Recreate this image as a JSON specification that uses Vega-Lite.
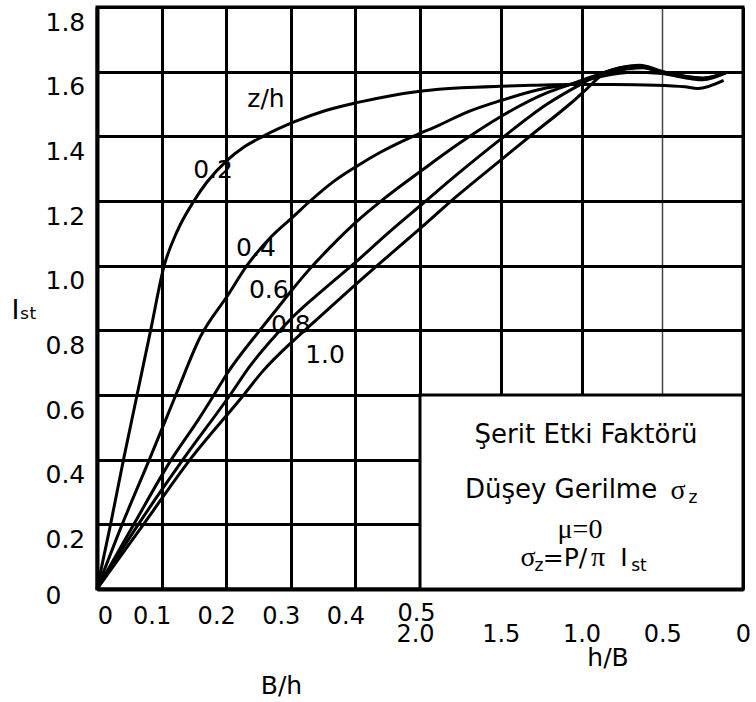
{
  "$schema": "https://vega.github.io/schema/vega-lite/v6.json",
  "width": 646,
  "height": 582,
  "autosize": {"type": "none"},
  "padding": {"left": 97, "top": 7, "right": 13, "bottom": 113},
  "background": "white",
  "config": {
    "view": {"stroke": "black", "strokeWidth": 3},
    "font": "DejaVu Sans",
    "axis": {"labelColor": "black", "titleColor": "black"}
  },
  "resolve": {"axis": {"x": "independent"}},
  "layer": [
    {
      "data": {"values": [
        {"zh": "0.2", "u": 0, "I": 0}, {"zh": "0.2", "u": 0.021, "I": 0.2}, {"zh": "0.2", "u": 0.041, "I": 0.4}, {"zh": "0.2", "u": 0.062, "I": 0.6}, {"zh": "0.2", "u": 0.083, "I": 0.8}, {"zh": "0.2", "u": 0.104, "I": 1.0}, {"zh": "0.2", "u": 0.124, "I": 1.106}, {"zh": "0.2", "u": 0.150, "I": 1.2}, {"zh": "0.2", "u": 0.170, "I": 1.258}, {"zh": "0.2", "u": 0.201, "I": 1.325}, {"zh": "0.2", "u": 0.227, "I": 1.366}, {"zh": "0.2", "u": 0.257, "I": 1.40}, {"zh": "0.2", "u": 0.307, "I": 1.446}, {"zh": "0.2", "u": 0.354, "I": 1.48}, {"zh": "0.2", "u": 0.404, "I": 1.505}, {"zh": "0.2", "u": 0.453, "I": 1.525}, {"zh": "0.2", "u": 0.503, "I": 1.54}, {"zh": "0.2", "u": 0.564, "I": 1.55}, {"zh": "0.2", "u": 0.624, "I": 1.555}, {"zh": "0.2", "u": 0.68, "I": 1.558}, {"zh": "0.2", "u": 0.735, "I": 1.56}, {"zh": "0.2", "u": 0.80, "I": 1.56}, {"zh": "0.2", "u": 0.865, "I": 1.558}, {"zh": "0.2", "u": 0.91, "I": 1.553}, {"zh": "0.2", "u": 0.93, "I": 1.548}, {"zh": "0.2", "u": 0.97, "I": 1.573},
        {"zh": "0.4", "u": 0, "I": 0}, {"zh": "0.4", "u": 0.039, "I": 0.2}, {"zh": "0.4", "u": 0.081, "I": 0.4}, {"zh": "0.4", "u": 0.122, "I": 0.6}, {"zh": "0.4", "u": 0.16, "I": 0.78}, {"zh": "0.4", "u": 0.203, "I": 0.91}, {"zh": "0.4", "u": 0.232, "I": 1.0}, {"zh": "0.4", "u": 0.27, "I": 1.09}, {"zh": "0.4", "u": 0.303, "I": 1.15}, {"zh": "0.4", "u": 0.33, "I": 1.2}, {"zh": "0.4", "u": 0.366, "I": 1.26}, {"zh": "0.4", "u": 0.404, "I": 1.31}, {"zh": "0.4", "u": 0.438, "I": 1.35}, {"zh": "0.4", "u": 0.489, "I": 1.40}, {"zh": "0.4", "u": 0.53, "I": 1.435}, {"zh": "0.4", "u": 0.573, "I": 1.475}, {"zh": "0.4", "u": 0.624, "I": 1.51}, {"zh": "0.4", "u": 0.697, "I": 1.55}, {"zh": "0.4", "u": 0.735, "I": 1.562}, {"zh": "0.4", "u": 0.78, "I": 1.585}, {"zh": "0.4", "u": 0.83, "I": 1.598}, {"zh": "0.4", "u": 0.87, "I": 1.595}, {"zh": "0.4", "u": 0.938, "I": 1.575}, {"zh": "0.4", "u": 0.974, "I": 1.597},
        {"zh": "0.6", "u": 0, "I": 0}, {"zh": "0.6", "u": 0.057, "I": 0.2}, {"zh": "0.6", "u": 0.115, "I": 0.4}, {"zh": "0.6", "u": 0.159, "I": 0.53}, {"zh": "0.6", "u": 0.181, "I": 0.6}, {"zh": "0.6", "u": 0.201, "I": 0.665}, {"zh": "0.6", "u": 0.252, "I": 0.8}, {"zh": "0.6", "u": 0.28, "I": 0.87}, {"zh": "0.6", "u": 0.304, "I": 0.93}, {"zh": "0.6", "u": 0.325, "I": 0.98}, {"zh": "0.6", "u": 0.36, "I": 1.055}, {"zh": "0.6", "u": 0.404, "I": 1.14}, {"zh": "0.6", "u": 0.443, "I": 1.205}, {"zh": "0.6", "u": 0.503, "I": 1.295}, {"zh": "0.6", "u": 0.562, "I": 1.38}, {"zh": "0.6", "u": 0.624, "I": 1.46}, {"zh": "0.6", "u": 0.697, "I": 1.535}, {"zh": "0.6", "u": 0.735, "I": 1.562}, {"zh": "0.6", "u": 0.775, "I": 1.59}, {"zh": "0.6", "u": 0.82, "I": 1.608}, {"zh": "0.6", "u": 0.845, "I": 1.612}, {"zh": "0.6", "u": 0.875, "I": 1.597}, {"zh": "0.6", "u": 0.938, "I": 1.578}, {"zh": "0.6", "u": 0.974, "I": 1.598},
        {"zh": "0.8", "u": 0, "I": 0}, {"zh": "0.8", "u": 0.064, "I": 0.2}, {"zh": "0.8", "u": 0.133, "I": 0.4}, {"zh": "0.8", "u": 0.206, "I": 0.6}, {"zh": "0.8", "u": 0.237, "I": 0.69}, {"zh": "0.8", "u": 0.27, "I": 0.77}, {"zh": "0.8", "u": 0.305, "I": 0.845}, {"zh": "0.8", "u": 0.35, "I": 0.925}, {"zh": "0.8", "u": 0.40, "I": 1.01}, {"zh": "0.8", "u": 0.45, "I": 1.1}, {"zh": "0.8", "u": 0.503, "I": 1.19}, {"zh": "0.8", "u": 0.562, "I": 1.29}, {"zh": "0.8", "u": 0.624, "I": 1.39}, {"zh": "0.8", "u": 0.697, "I": 1.5}, {"zh": "0.8", "u": 0.748, "I": 1.56}, {"zh": "0.8", "u": 0.785, "I": 1.598}, {"zh": "0.8", "u": 0.835, "I": 1.617}, {"zh": "0.8", "u": 0.877, "I": 1.598}, {"zh": "0.8", "u": 0.938, "I": 1.58}, {"zh": "0.8", "u": 0.974, "I": 1.598},
        {"zh": "1.0", "u": 0, "I": 0}, {"zh": "1.0", "u": 0.072, "I": 0.2}, {"zh": "1.0", "u": 0.144, "I": 0.4}, {"zh": "1.0", "u": 0.227, "I": 0.6}, {"zh": "1.0", "u": 0.255, "I": 0.67}, {"zh": "1.0", "u": 0.305, "I": 0.77}, {"zh": "1.0", "u": 0.33, "I": 0.815}, {"zh": "1.0", "u": 0.405, "I": 0.95}, {"zh": "1.0", "u": 0.503, "I": 1.12}, {"zh": "1.0", "u": 0.557, "I": 1.215}, {"zh": "1.0", "u": 0.624, "I": 1.325}, {"zh": "1.0", "u": 0.673, "I": 1.405}, {"zh": "1.0", "u": 0.732, "I": 1.50}, {"zh": "1.0", "u": 0.752, "I": 1.535}, {"zh": "1.0", "u": 0.79, "I": 1.60}, {"zh": "1.0", "u": 0.84, "I": 1.62}, {"zh": "1.0", "u": 0.877, "I": 1.60}, {"zh": "1.0", "u": 0.938, "I": 1.58}, {"zh": "1.0", "u": 0.974, "I": 1.598}
      ]},
      "mark": {"type": "line", "color": "black", "strokeWidth": 3, "interpolate": "monotone"},
      "encoding": {
        "x": {
          "field": "u", "type": "quantitative",
          "scale": {"domain": [0, 1], "nice": false, "zero": false},
          "axis": {
            "orient": "bottom",
            "values": [0, 0.1, 0.2, 0.3, 0.4, 0.5],
            "grid": true, "gridColor": "black", "gridWidth": 3,
            "domain": true, "domainColor": "black", "domainWidth": 4,
            "ticks": false, "tickSize": 0,
            "labelFont": "DejaVu Sans", "labelFontSize": 24,
            "labelAlign": "center", "labelBaseline": "top",
            "labelPadding": {"condition": {"test": "datum.value > 0.45", "value": 12}, "value": 15},
            "labelOffset": {"condition": [{"test": "datum.value == 0", "value": 8}, {"test": "datum.value < 0.45", "value": -10}], "value": -4},
            "labelExpr": "datum.value == 0 ? '0' : format(datum.value, '.1f')",
            "labelOverlap": false, "labelBound": false, "labelFlush": false,
            "title": "B/h", "titleX": 184, "titleY": 104,
            "titleAlign": "center", "titleBaseline": "alphabetic",
            "titleFont": "DejaVu Sans", "titleFontSize": 25, "titleFontWeight": "normal"
          }
        },
        "y": {
          "field": "I", "type": "quantitative",
          "scale": {"domain": [0, 1.8], "nice": false, "zero": false},
          "axis": {
            "values": [0, 0.2, 0.4, 0.6, 0.8, 1.0, 1.2, 1.4, 1.6, 1.8],
            "grid": true, "gridColor": "black", "gridWidth": 3,
            "domain": true, "domainColor": "black", "domainWidth": 4,
            "ticks": false, "tickSize": 0,
            "labelFont": "DejaVu Sans", "labelFontSize": 25,
            "labelAlign": "left", "labelBaseline": "middle",
            "labelPadding": 52,
            "labelOffset": {"condition": {"test": "datum.value == 0", "value": 6}, "value": 15},
            "labelExpr": "datum.value == 0 ? '0' : format(datum.value, '.1f')",
            "labelOverlap": false, "labelBound": false, "labelFlush": false,
            "title": "Iₛₜ", "titleAngle": 0, "titleX": -73, "titleY": 303,
            "titleAlign": "center", "titleBaseline": "middle",
            "titleFont": "DejaVu Sans", "titleFontSize": 27, "titleFontWeight": "normal"
          }
        },
        "detail": {"field": "zh", "type": "nominal"}
      }
    },
    {
      "data": {"values": [{"u0": 0.5, "u1": 1, "I0": 0, "I1": 0.6}]},
      "mark": {"type": "rect", "fill": "white", "stroke": "black", "strokeWidth": 3},
      "encoding": {
        "x": {
          "field": "u0", "type": "quantitative",
          "axis": {
            "orient": "bottom",
            "values": [0.5, 0.625, 0.75, 0.875, 1],
            "grid": true,
            "gridColor": {"condition": {"test": "datum.value == 0.875", "value": "#444444"}, "value": "black"},
            "gridWidth": {"condition": {"test": "datum.value == 0.875", "value": 1.5}, "value": 3},
            "domain": false, "ticks": false, "tickSize": 0,
            "labelFont": "DejaVu Sans", "labelFontSize": 24,
            "labelAlign": "center", "labelBaseline": "top",
            "labelPadding": 33,
            "labelOffset": {"condition": {"test": "datum.value < 0.55", "value": -5}, "value": 0},
            "labelExpr": "datum.value > 0.99 ? '0' : format((1 - datum.value) * 4, '.1f')",
            "labelOverlap": false, "labelBound": false, "labelFlush": false,
            "title": null
          }
        },
        "x2": {"field": "u1"},
        "y": {"field": "I0", "type": "quantitative"},
        "y2": {"field": "I1"}
      }
    },
    {
      "data": {"values": [
        {"t": "z/h", "u": 0.2616, "I": 1.4907},
        {"t": "0.2", "u": 0.1796, "I": 1.2711},
        {"t": "0.4", "u": 0.246, "I": 1.030},
        {"t": "0.6", "u": 0.266, "I": 0.900},
        {"t": "0.8", "u": 0.300, "I": 0.792},
        {"t": "1.0", "u": 0.353, "I": 0.699},
        {"t": "h/B", "u": 0.791, "I": -0.238},
        {"t": "=P/", "u": 0.7245, "I": 0.0711},
        {"t": "I", "u": 0.8158, "I": 0.0711}
      ]},
      "mark": {"type": "text", "font": "DejaVu Sans", "fontSize": 25, "color": "black", "align": "center", "baseline": "alphabetic"},
      "encoding": {
        "x": {"field": "u", "type": "quantitative", "axis": null},
        "y": {"field": "I", "type": "quantitative"},
        "text": {"field": "t"}
      }
    },
    {
      "data": {"values": [
        {"t": "Şerit Etki Faktörü", "u": 0.757, "I": 0.4516},
        {"t": "Düşey Gerilme", "u": 0.7183, "I": 0.2814}
      ]},
      "mark": {"type": "text", "font": "DejaVu Sans", "fontSize": 26, "color": "black", "align": "center", "baseline": "alphabetic"},
      "encoding": {
        "x": {"field": "u", "type": "quantitative", "axis": null},
        "y": {"field": "I", "type": "quantitative"},
        "text": {"field": "t"}
      }
    },
    {
      "data": {"values": [
        {"t": "σ", "u": 0.8994, "I": 0.2784},
        {"t": "μ=0", "u": 0.7477, "I": 0.1577},
        {"t": "σ", "u": 0.6672, "I": 0.0711},
        {"t": "π", "u": 0.7755, "I": 0.0711}
      ]},
      "mark": {"type": "text", "font": "Liberation Serif", "fontSize": 28, "color": "black", "align": "center", "baseline": "alphabetic"},
      "encoding": {
        "x": {"field": "u", "type": "quantitative", "axis": null},
        "y": {"field": "I", "type": "quantitative"},
        "text": {"field": "t"}
      }
    },
    {
      "data": {"values": [
        {"t": "z", "u": 0.9226, "I": 0.266},
        {"t": "z", "u": 0.6842, "I": 0.0557},
        {"t": "st", "u": 0.839, "I": 0.0557}
      ]},
      "mark": {"type": "text", "font": "DejaVu Sans", "fontSize": 17, "color": "black", "align": "center", "baseline": "alphabetic"},
      "encoding": {
        "x": {"field": "u", "type": "quantitative", "axis": null},
        "y": {"field": "I", "type": "quantitative"},
        "text": {"field": "t"}
      }
    }
  ]
}
